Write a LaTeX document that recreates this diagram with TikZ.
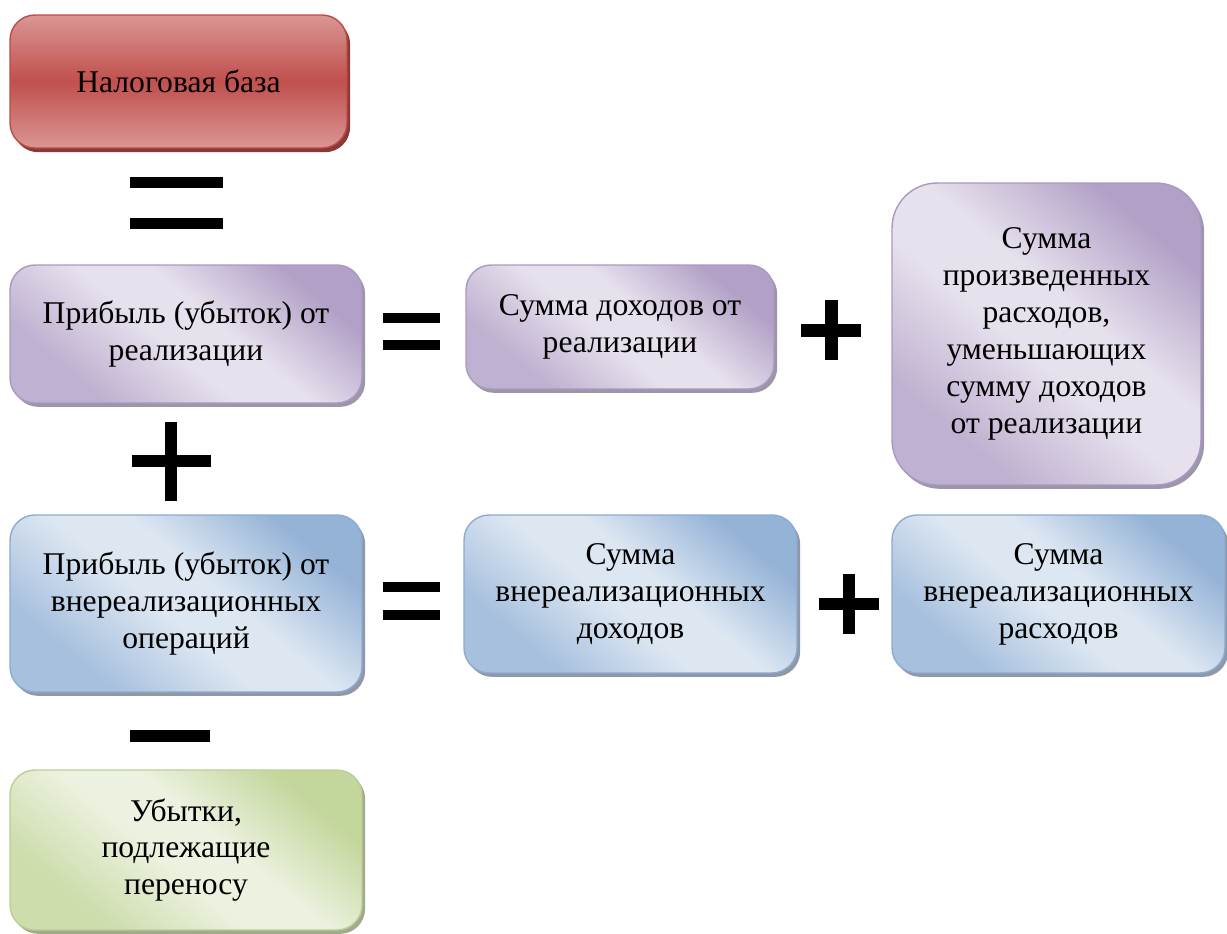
\documentclass[tikz,border=0pt]{standalone}
\usepackage{fontspec}
\setmainfont{Liberation Serif}
\usepackage{tikz}
\usetikzlibrary{shadows}
\definecolor{taxmid}{RGB}{192,80,77}
\definecolor{taxlite}{RGB}{218,150,148}
\definecolor{taxline}{RGB}{185,77,74}
\definecolor{taxshade}{RGB}{140,56,54}
\definecolor{lilacdark}{RGB}{178,161,199}
\definecolor{lilaclite}{RGB}{231,225,237}
\definecolor{lilacline}{RGB}{170,152,194}
\definecolor{lilacshade}{RGB}{158,150,168}
\definecolor{skydark}{RGB}{149,179,215}
\definecolor{skylite}{RGB}{221,231,242}
\definecolor{skyline}{RGB}{141,170,210}
\definecolor{skyshade}{RGB}{142,152,166}
\definecolor{sagedark}{RGB}{195,214,155}
\definecolor{sagelite}{RGB}{236,242,224}
\definecolor{sageline}{RGB}{188,206,150}
\definecolor{sageshade}{RGB}{160,170,140}
% soft glossy shadings: dark corner top right, light middle
\pgfdeclareverticalshading{lilacgloss}{100bp}{color(0bp)=(lilacdark!75!lilaclite);
  color(28bp)=(lilacdark!75!lilaclite); color(46bp)=(lilaclite); color(56bp)=(lilaclite);
  color(74bp)=(lilacdark); color(100bp)=(lilacdark)}
\pgfdeclareverticalshading{skygloss}{100bp}{color(0bp)=(skydark!75!skylite);
  color(28bp)=(skydark!75!skylite); color(46bp)=(skylite); color(56bp)=(skylite);
  color(74bp)=(skydark); color(100bp)=(skydark)}
\pgfdeclareverticalshading{sagegloss}{100bp}{color(0bp)=(sagedark!75!sagelite);
  color(28bp)=(sagedark!75!sagelite); color(46bp)=(sagelite); color(56bp)=(sagelite);
  color(74bp)=(sagedark); color(100bp)=(sagedark)}
\tikzset{
  box/.style={rounded corners=5mm,align=center,inner sep=0pt,
    line width=0.8pt,font=\fontsize{18}{21}\selectfont},
  taxbox/.style={box,draw=taxline,top color=taxlite,bottom color=taxlite,
    middle color=taxmid,
    drop shadow={shadow xshift=1.8pt,shadow yshift=-2.4pt,fill=taxshade,opacity=1}},
  lilacbox/.style={box,draw=lilacline,shading=lilacgloss,shading angle=-40,
    drop shadow={shadow xshift=1.8pt,shadow yshift=-2.2pt,fill=lilacshade,opacity=1}},
  skybox/.style={box,draw=skyline,shading=skygloss,shading angle=-40,
    drop shadow={shadow xshift=1.8pt,shadow yshift=-2.2pt,fill=skyshade,opacity=1}},
  sagebox/.style={box,draw=sageline,shading=sagegloss,shading angle=-40,
    drop shadow={shadow xshift=1.8pt,shadow yshift=-2.2pt,fill=sageshade,opacity=1}},
  pics/equals/.style n args={3}{code={
    \fill (-#1/2,-#3/2-#2/2) rectangle (#1/2,-#3/2+#2/2);
    \fill (-#1/2,#3/2-#2/2) rectangle (#1/2,#3/2+#2/2);
  }},
  pics/plus/.style n args={2}{code={
    \fill (-#1/2,-#2/2) rectangle (#1/2,#2/2);
    \fill (-#2/2,-#1/2) rectangle (#2/2,#1/2);
  }},
  pics/minus/.style n args={2}{code={
    \fill (-#1/2,-#2/2) rectangle (#1/2,#2/2);
  }}
}

\begin{document}
\begin{tikzpicture}[x=0.02cm,y=-0.02cm]
  \useasboundingbox (0,0) rectangle (1227,933);
  % left column
  \node[taxbox,minimum width=6.74cm,minimum height=2.66cm] (base) at (178.5,81.5)
    {Налоговая база};
  \pic at (176.5,203) {equals={93}{11}{41.5}};
  \node[lilacbox,minimum width=7.04cm,minimum height=2.76cm] (opsale) at (186,334)
    {Прибыль (убыток) от\\реализации};
  \pic at (171,461) {plus={79}{12}};
  \node[skybox,minimum width=7.04cm,minimum height=3.54cm] (opnon) at (186,603.5)
    {Прибыль (убыток) от\\внереализационных\\операций};
  \pic at (170,736) {minus={80}{12}};
  \node[sagebox,minimum width=7.04cm,minimum height=3.2cm] (carryloss) at (186,850)
    {Убытки,\\подлежащие\\переносу};
  % row of sales
  \pic at (411.5,331) {equals={57}{10}{27}};
  \node[lilacbox,minimum width=6.16cm,minimum height=2.48cm] (saleinc) at (620,327)
    {Сумма доходов от\\реализации};
  \pic at (831,330) {plus={60}{13}};
  \node[lilacbox,rounded corners=9mm,minimum width=6.18cm,minimum height=6.04cm]
    (saleexp) at (1046.5,334)
    {Сумма\\произведенных\\расходов,\\уменьшающих\\сумму доходов\\от реализации};
  % row of other operations
  \pic at (411.5,601) {equals={57}{10}{28}};
  \node[skybox,minimum width=6.66cm,minimum height=3.16cm] (noninc) at (630.5,594)
    {Сумма\\внереализационных\\доходов};
  \pic at (849,604) {plus={60}{12}};
  \node[skybox,minimum width=6.66cm,minimum height=3.16cm] (nonexp) at (1058.5,594)
    {Сумма\\внереализационных\\расходов};
\end{tikzpicture}
\end{document}
